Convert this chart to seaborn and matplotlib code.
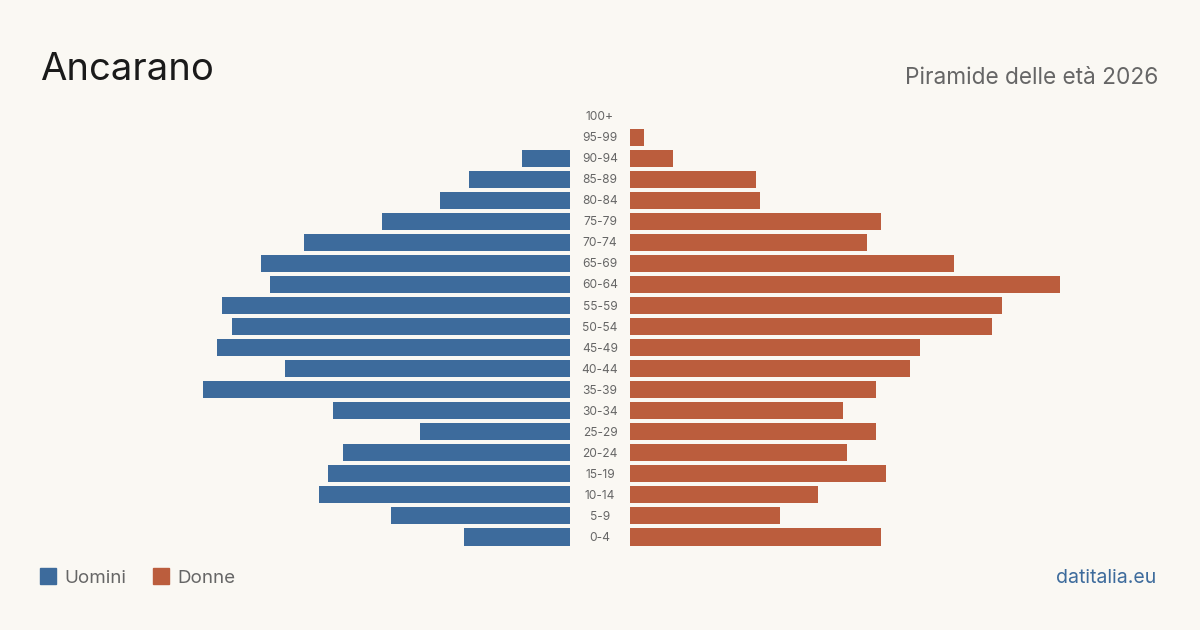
import matplotlib
matplotlib.use("Agg")
import matplotlib.pyplot as plt
import seaborn as sns
import pandas as pd
from matplotlib.patches import Rectangle

# fasce d'età dall'alto verso il basso
eta = ["100+", "95-99", "90-94", "85-89", "80-84", "75-79", "70-74", "65-69",
       "60-64", "55-59", "50-54", "45-49", "40-44", "35-39", "30-34", "25-29",
       "20-24", "15-19", "10-14", "5-9", "0-4"]
uomini = [0, 0, 48, 101, 130, 188, 266, 309, 300, 348, 338, 353, 285, 367,
          237, 150, 227, 242, 251, 179, 106]
donne = [0, 14, 43, 126, 130, 251, 237, 324, 430, 372, 362, 290, 280, 246,
         213, 246, 217, 256, 188, 150, 251]

titolo = "Ancarano"
sottotitolo = "Piramide delle età 2026"
fonte = "datitalia.eu"

BLU = "#3d6b9c"
ARANCIO = "#bb5d3d"
SFONDO = "#faf8f3"
GRIGIO = "#666666"

df = pd.DataFrame({"eta": eta, "Uomini": uomini, "Donne": donne})

sns.set_theme(style="white")
plt.rcParams["font.family"] = ["Inter", "DejaVu Sans"]

W, H = 1200, 630
fig = plt.figure(figsize=(12, 6.3), dpi=100, facecolor=SFONDO)

bottom = 1 - 547.5 / H
height = (547.5 - 105.5) / H
ax_m = fig.add_axes([70 / W, bottom, 500 / W, height])
ax_f = fig.add_axes([630 / W, bottom, 500 / W, height])

sns.barplot(data=df, x="Uomini", y="eta", order=eta, color=BLU, width=0.81,
            saturation=1, linewidth=0, ax=ax_m)
sns.barplot(data=df, x="Donne", y="eta", order=eta, color=ARANCIO, width=0.81,
            saturation=1, linewidth=0, ax=ax_f)

ax_m.set_xlim(500, 0)
ax_f.set_xlim(0, 500)
for ax in (ax_m, ax_f):
    ax.set_facecolor("none")
    ax.set_xlabel("")
    ax.set_ylabel("")
    ax.set_xticks([])
    ax.set_yticks([])
    sns.despine(ax=ax, left=True, bottom=True)
    ax.set_ylim(len(eta) - 0.5, -0.5)

# etichette delle fasce al centro
for i, e in enumerate(eta):
    ax_f.text(-30, i + 0.05, e, ha="center", va="center", fontsize=8.6,
              color=GRIGIO, clip_on=False)

fig.text(40 / W, 1 - 80 / H, titolo, fontsize=27.5, color="#1a1a1a",
         ha="left", va="baseline")
fig.text(1158 / W, 1 - 84 / H, sottotitolo, fontsize=16.3, color=GRIGIO,
         ha="right", va="baseline")

# legenda
for x0, col, lab in [(40, BLU, "Uomini"), (153, ARANCIO, "Donne")]:
    fig.patches.append(Rectangle((x0 / W, 1 - 584 / H), 16 / W, 16 / H,
                                 transform=fig.transFigure, color=col))
    fig.text((x0 + 24) / W, 1 - 583 / H, lab, fontsize=13.5, color=GRIGIO,
             ha="left", va="baseline")

fig.text(1156 / W, 1 - 583 / H, fonte, fontsize=14, color=BLU,
         ha="right", va="baseline")

fig.savefig("out.png", dpi=100, facecolor=SFONDO)
plt.close(fig)
